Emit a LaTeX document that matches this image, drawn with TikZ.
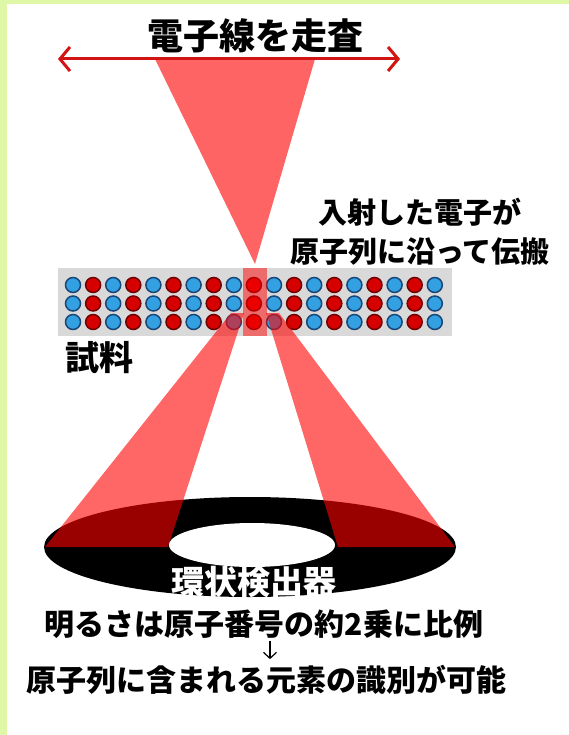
\documentclass[tikz,border=0pt]{standalone}
\usepackage{fontspec}
\newfontfamily\jp{Noto Sans CJK JP}
\usetikzlibrary{arrows.meta}

\definecolor{bordergreen}{RGB}{222,248,168}
\definecolor{slabgray}{RGB}{217,217,217}
\definecolor{atomblue}{RGB}{51,160,225}
\definecolor{atomblueedge}{RGB}{25,70,120}
\definecolor{atomred}{RGB}{215,0,0}
\definecolor{atomrededge}{RGB}{110,0,0}
\definecolor{beam}{RGB}{255,100,100}
\definecolor{scanred}{RGB}{210,20,20}

\tikzset{
  jptext/.style={font=\jp\bfseries\fontsize{#1}{#1}\selectfont, inner sep=0pt},
  blueatom/.style={circle, draw=atomblueedge, fill=atomblue, line width=1.5pt, minimum size=15pt, inner sep=0pt},
  redatom/.style={circle, draw=atomrededge, fill=atomred, line width=1.5pt, minimum size=15pt, inner sep=0pt},
  scanarrow/.style={draw=scanred, line width=3pt,
    {Straight Barb[length=10pt,width=24pt,line width=3pt]}-{Straight Barb[length=10pt,width=24pt,line width=3pt]}},
  scattered/.style={fill=red, fill opacity=0.6},
  downarrow/.style={line width=1.2pt, -{Straight Barb[length=6pt,width=13pt,line width=1.2pt]}}
}

\begin{document}
\begin{tikzpicture}[x=1pt,y=-1pt]
\useasboundingbox (0,0) rectangle (569,735);
\fill[white] (0,0) rectangle (569,735);
\fill[bordergreen] (0,0) rectangle (569,4);
\fill[bordergreen] (0,0) rectangle (7,735);

% incident beam, scanned left and right
\fill[beam] (155,59) -- (315,59) -- (255,264) -- cycle;
\coordinate (scanL) at (58,59);
\coordinate (scanR) at (400,59);
\draw[scanarrow] (scanL) -- (scanR);
\node[jptext=36] (scan) at (255,36) {電子線を走査};

% sample with three rows of atoms
\fill[slabgray] (58,268) rectangle (452,336);
\foreach \col in {0,...,18} {
  \foreach \row in {0,1,2} {
    \ifodd\col \def\kind{redatom}\else\def\kind{blueatom}\fi
    \node[\kind] (a-\row-\col) at (73+20.1*\col, 285+18.5*\row) {};
  }
}
\fill[red, fill opacity=0.5] (243,268) rectangle (267,336);
\node[jptext=34] (sample) at (99,358) {試料};
\node[font=\jp\bfseries\fontsize{29}{39}\selectfont, inner sep=0pt, align=center] (prop) at (420,232) {入射した電子が\\原子列に沿って伝搬};

% annular detector and scattered electrons
\fill[black] (250,547) ellipse [x radius=206, y radius=50];
\fill[scattered] (231,313) -- (244,313) -- (168,547) -- (45,547) -- cycle;
\fill[scattered] (266,313) -- (279,313) -- (455,547) -- (338,547) -- cycle;
\fill[white] (252,545) ellipse [x radius=83, y radius=22];
\node[jptext=33] (detector) [text=white] at (254,582) {環状検出器};

\node[jptext=30] (bright) at (264,624) {明るさは原子番号の約2乗に比例};
\node[jptext=30] (ident) at (266,680) {原子列に含まれる元素の識別が可能};
\draw[downarrow, shorten <=2pt, shorten >=6pt] ([xshift=6pt]bright.south) -- ([xshift=4pt]ident.north);
\end{tikzpicture}
\end{document}
